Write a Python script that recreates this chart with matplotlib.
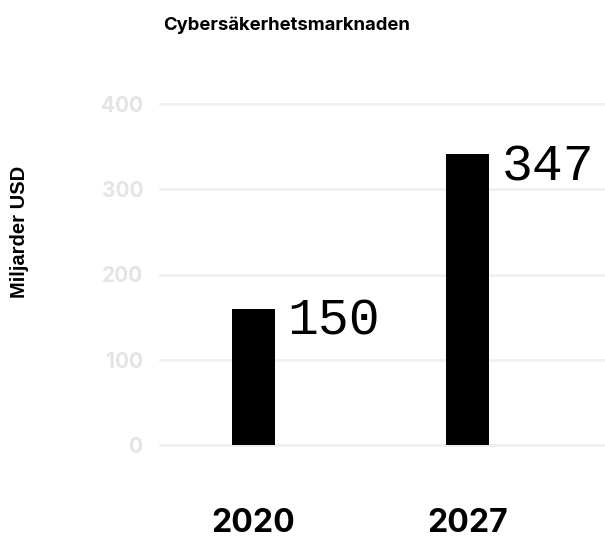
import matplotlib
matplotlib.use("Agg")
import matplotlib.pyplot as plt

categories = ["2020", "2027"]
bar_values = [160, 341]
value_labels = ["150", "347"]
yticks = [0, 100, 200, 300, 400]

W, H = 605, 541
fig = plt.figure(figsize=(W / 100, H / 100), dpi=100)
ax = fig.add_axes([160 / W, (H - 445) / H, (605 - 160) / W, (445 - 104) / H])

x = list(range(len(categories)))
ax.bar(x, bar_values, width=0.2, color="black", zorder=3)
ax.set_xlim(-0.437, 1.643)
ax.set_ylim(0, 400)
ax.set_yticks(yticks)
ax.set_yticklabels([str(t) for t in yticks], fontfamily="Inter", fontweight="bold",
                   fontsize=15, color="#e4e4e4")
ax.tick_params(axis="y", length=0, pad=12)
ax.set_xticks(x)
ax.set_xticklabels(categories, fontfamily="Inter", fontweight="bold", fontsize=23, color="black")
ax.tick_params(axis="x", length=0, pad=45)
for s in ax.spines.values():
    s.set_visible(False)
ax.grid(axis="y", color="#f0f0f0", linewidth=2, zorder=0)
ax.set_axisbelow(True)
for sp in ax.get_ygridlines():
    sp.set_clip_on(False)

for xi, v, lab in zip(x, bar_values, value_labels):
    ax.annotate(lab, xy=(xi + 0.1, v), xytext=(9, -9), textcoords="offset points",
                ha="left", va="center", fontsize=37, fontfamily="Liberation Mono",
                color="black", annotation_clip=False)

fig.text(287 / W, 1 - 25 / H, "Cybersäkerhetsmarknaden", ha="center", va="center",
         fontfamily="Inter", fontweight="bold", fontsize=13.3)
fig.text(20 / W, 1 - 232 / H, "Miljarder USD", ha="center", va="center", rotation=90,
         fontfamily="Liberation Sans", fontweight="bold", fontsize=14.5)

fig.savefig("out.png", dpi=100)
